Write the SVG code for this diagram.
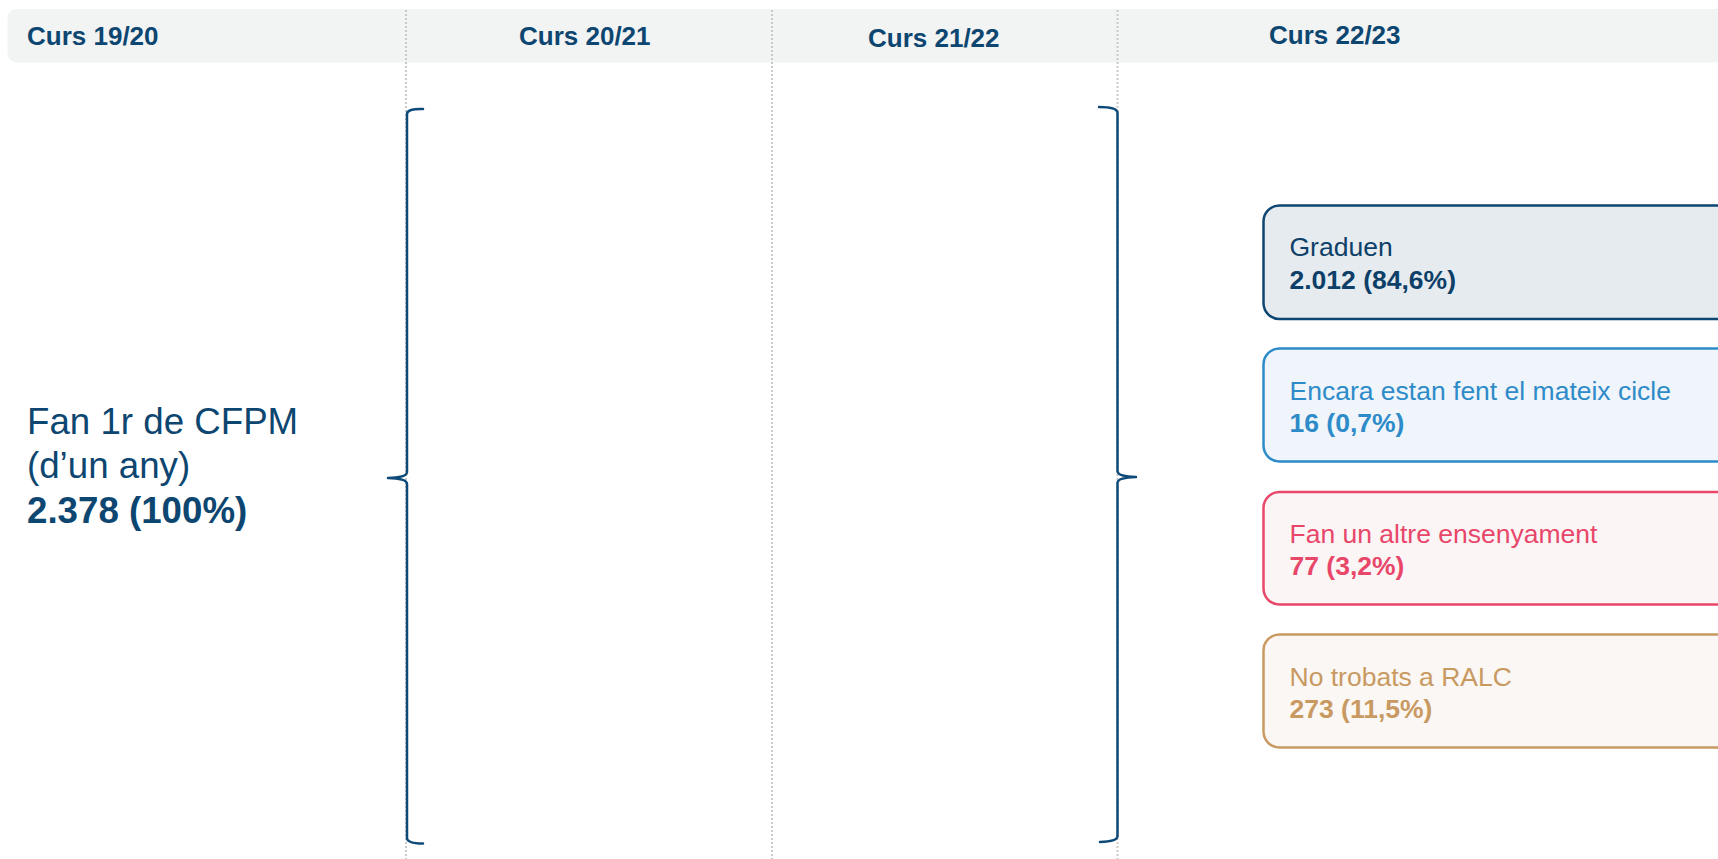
<svg xmlns="http://www.w3.org/2000/svg" width="1718" height="859" viewBox="0 0 1718 859">
<style>
text{font-family:"Liberation Sans",Arial,sans-serif}
.hd{font-size:26px;font-weight:bold;fill:#0d4670}
.div{stroke:#c9c9c9;stroke-width:2;stroke-dasharray:2 2;fill:none}
.brace{stroke:#0d4a78;stroke-width:2.5;fill:none;stroke-linecap:round;stroke-linejoin:round}
.lbl{font-size:26.5px}
.num{font-size:26.5px;font-weight:bold}
.big{font-size:36.7px;fill:#0d4670}
</style>
<rect x="7.5" y="9" width="1730" height="53.5" rx="9" fill="#f2f4f4"/>
<g id="headers">
<text class="hd" x="27" y="45">Curs 19/20</text>
<text class="hd" x="519" y="45">Curs 20/21</text>
<text class="hd" x="868" y="47">Curs 21/22</text>
<text class="hd" x="1269" y="43.5">Curs 22/23</text>
</g>
<g id="dividers">
<line class="div" x1="406" y1="10" x2="406" y2="859"/>
<line class="div" x1="772" y1="10" x2="772" y2="859"/>
<line class="div" x1="1117.5" y1="10" x2="1117.5" y2="859"/>
</g>
<g id="start">
<text class="big" x="27" y="434">Fan 1r de CFPM</text>
<text class="big" x="27" y="478">(d’un any)</text>
<text class="big" x="27" y="522.5" font-weight="bold">2.378 (100%)</text>
</g>
<g id="connectors">
<path class="brace" d="M423 109 Q407 108.5 407 114 L407 472 Q407 477.5 388 478 Q407 478.5 407 484 L407 838 Q407 843.5 423 843.5"/>
<path class="brace" d="M1099 107 Q1117.5 107 1117.5 113 L1117.5 471 Q1117.5 476.5 1136 477 Q1117.5 477.5 1117.5 483 L1117.5 836 Q1117.5 841.5 1100 842"/>
</g>
<g id="graduen">
<rect x="1263.5" y="205.5" width="480" height="113.5" rx="16" fill="#e6ebf0" stroke="#0d4670" stroke-width="2.5"/>
<text class="lbl" x="1289.5" y="256" fill="#0d3f68">Graduen</text>
<text class="num" x="1289.5" y="288.5" fill="#0d3f68">2.012 (84,6%)</text>
</g>
<g id="encara">
<rect x="1263.5" y="348.5" width="480" height="113" rx="16" fill="#eff5fa" stroke="#2e8bc9" stroke-width="2.5"/>
<text class="lbl" x="1289.5" y="399.5" fill="#2e8bc9">Encara estan fent el mateix cicle</text>
<text class="num" x="1289.5" y="432" fill="#2e8bc9">16 (0,7%)</text>
</g>
<g id="altre">
<rect x="1263.5" y="492" width="480" height="112.5" rx="16" fill="#fcf5f6" stroke="#e8476a" stroke-width="2.5"/>
<text class="lbl" x="1289.5" y="542.5" fill="#e8476a">Fan un altre ensenyament</text>
<text class="num" x="1289.5" y="575" fill="#e8476a">77 (3,2%)</text>
</g>
<g id="ralc">
<rect x="1263.5" y="634.5" width="480" height="113" rx="16" fill="#fbf7f4" stroke="#c89a62" stroke-width="2.5"/>
<text class="lbl" x="1289.5" y="685.5" fill="#c89a62">No trobats a RALC</text>
<text class="num" x="1289.5" y="718" fill="#c89a62">273 (11,5%)</text>
</g>
</svg>
